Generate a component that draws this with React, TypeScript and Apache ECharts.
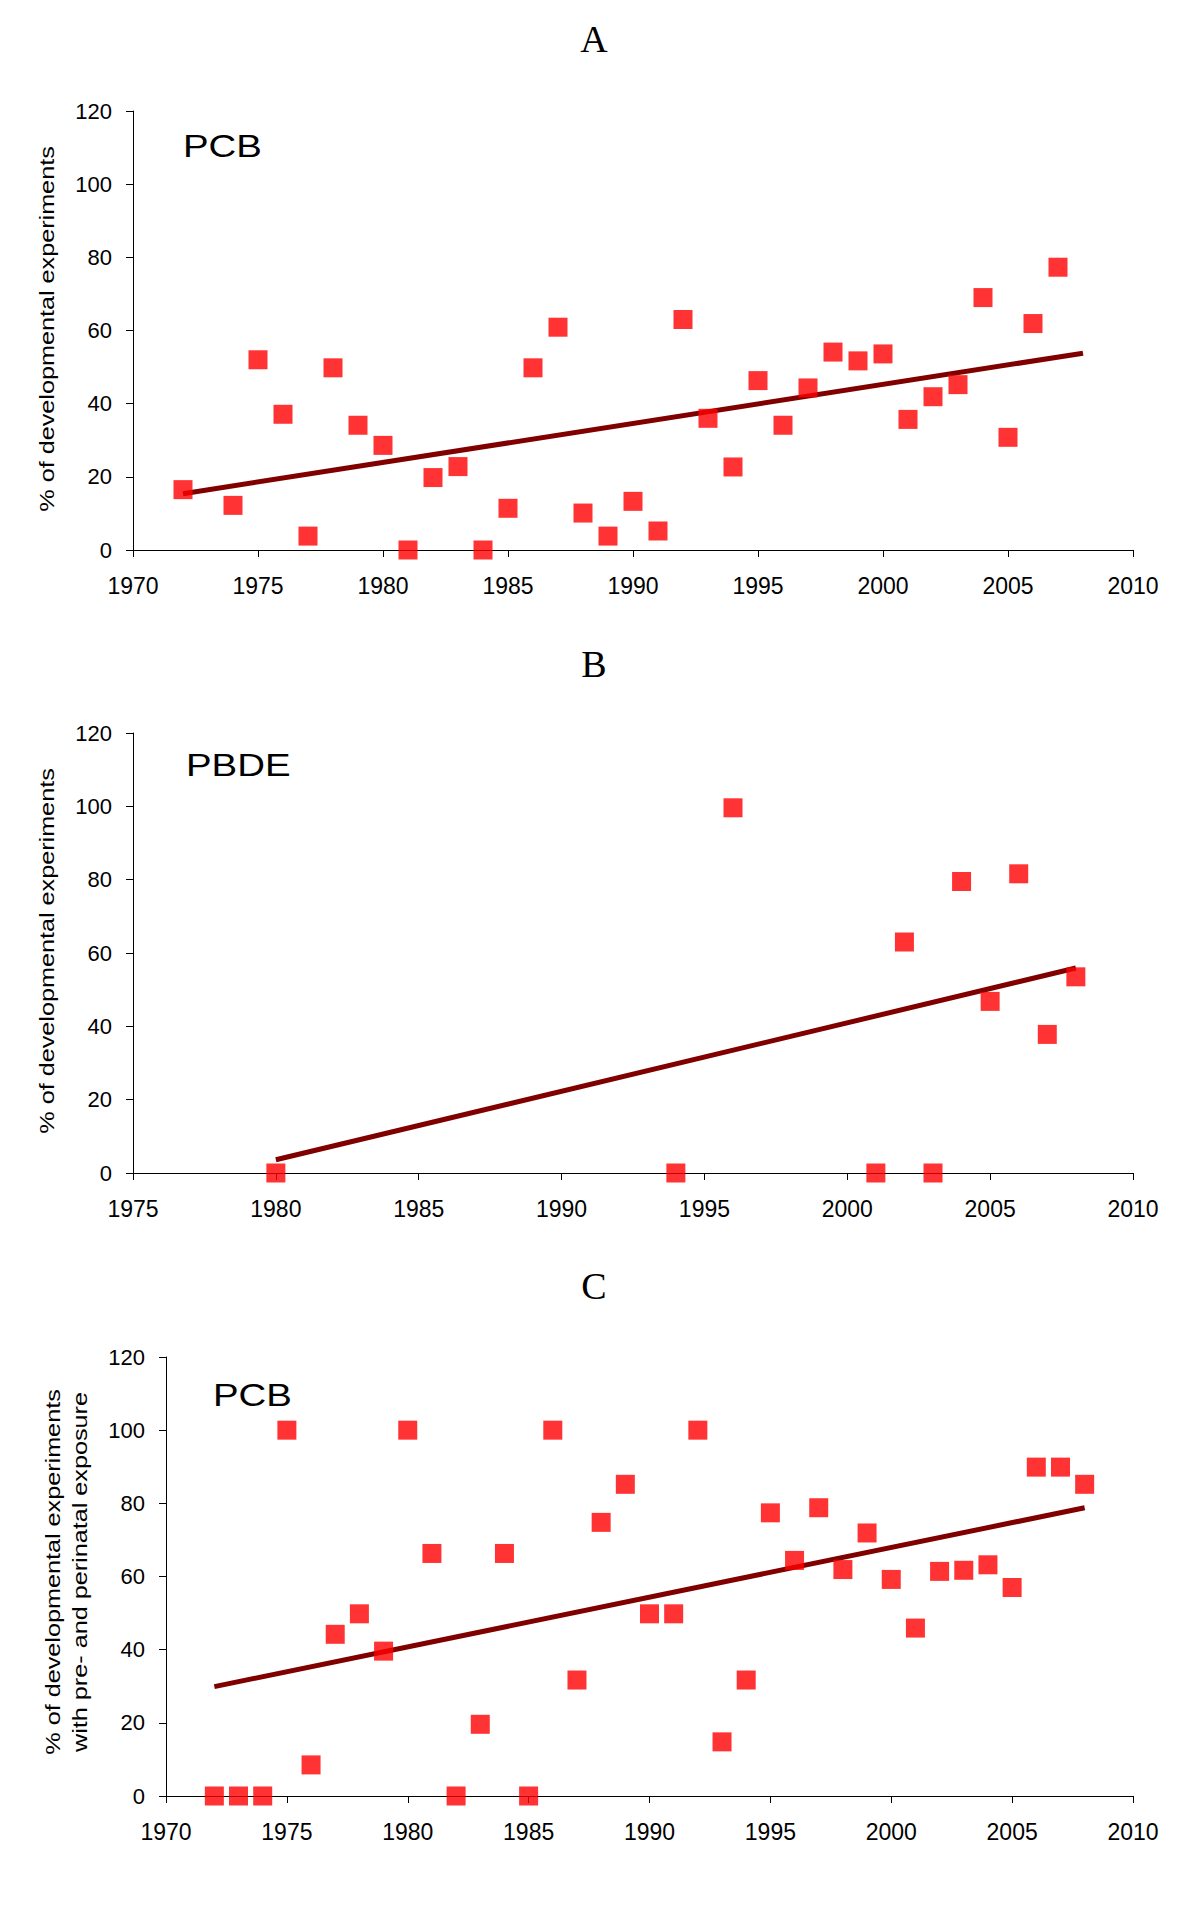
import React, { useEffect, useRef } from "react";
import * as echarts from "echarts";

// ---- Panel A: PCB ----
const yearsA = [1972, 1974, 1975, 1976, 1977, 1978, 1979, 1980, 1981, 1982, 1983, 1984, 1985, 1986, 1987, 1988, 1989, 1990, 1991, 1992, 1993, 1994, 1995, 1996, 1997, 1998, 1999, 2000, 2001, 2002, 2003, 2004, 2005, 2006, 2007];
const valuesA = [16.5, 12.2, 52.0, 37.1, 3.8, 49.8, 34.1, 28.6, 0, 19.8, 22.8, 0, 11.4, 49.8, 60.9, 10.1, 3.8, 13.3, 5.2, 63.0, 36.0, 22.7, 46.3, 34.1, 44.3, 54.1, 51.7, 53.6, 35.7, 41.9, 45.2, 69.0, 30.8, 61.9, 77.3];
const trendYearsA = [1972, 2008];
const trendValuesA = [15.4, 53.8];

// ---- Panel B: PBDE ----
const yearsB = [1980, 1994, 1996, 2001, 2002, 2003, 2004, 2005, 2006, 2007, 2008];
const valuesB = [0, 0, 99.6, 0, 63.0, 0, 79.5, 46.8, 81.6, 37.8, 53.5];
const trendYearsB = [1980, 2008];
const trendValuesB = [3.6, 55.9];

// ---- Panel C: PCB, pre- and perinatal exposure ----
const yearsC = [1972, 1973, 1974, 1975, 1976, 1977, 1978, 1979, 1980, 1981, 1982, 1983, 1984, 1985, 1986, 1987, 1988, 1989, 1990, 1991, 1992, 1993, 1994, 1995, 1996, 1997, 1998, 1999, 2000, 2001, 2002, 2003, 2004, 2005, 2006, 2007, 2008];
const valuesC = [0, 0, 0, 100, 8.5, 44.2, 49.8, 39.6, 100, 66.3, 0, 19.6, 66.3, 0, 100, 31.7, 74.8, 85.2, 49.8, 49.8, 100, 14.8, 31.7, 77.4, 64.4, 78.8, 61.9, 71.9, 59.2, 45.9, 61.4, 61.7, 63.2, 57.0, 89.9, 89.9, 85.2];
const trendYearsC = [1972, 2008];
const trendValuesC = [29.9, 78.8];

const panelTitles = ["A", "B", "C"];
const panelLabels = ["PCB", "PBDE", "PCB"];
const yTitleMain = "% of developmental experiments";
const yTitleSecond = "with pre- and perinatal exposure";
const xRanges = [
  [1970, 2010],
  [1975, 2010],
  [1970, 2010],
];

const SANS = "'Liberation Sans', Arial, sans-serif";
const SERIF = "'Liberation Serif', 'Times New Roman', serif";

const zip = (xs: number[], ys: number[]) => xs.map((x, i) => [x, ys[i]]);

export default function App() {
  const ref = useRef<HTMLDivElement>(null);

  useEffect(() => {
    if (!ref.current) return;
    const chart = echarts.init(ref.current, undefined, { renderer: "svg" });

    const grids = [
      { left: 133, top: 111, width: 1000, height: 439 },
      { left: 133, top: 733, width: 1000, height: 440 },
      { left: 166, top: 1357, width: 967, height: 439 },
    ];

    const xAxes = xRanges.map((r, i) => ({
      type: "value",
      gridIndex: i,
      min: r[0],
      max: r[1],
      interval: 5,
      splitLine: { show: false },
      axisLine: { show: true, onZero: false, lineStyle: { color: "#000", width: 1 } },
      axisTick: { show: true, length: 7, lineStyle: { color: "#000", width: 1 } },
      axisLabel: {
        color: "#000",
        fontSize: 23,
        fontFamily: SANS,
        margin: 24,
        showMinLabel: true,
        showMaxLabel: true,
        formatter: (v: number) => String(v),
      },
    }));

    const yAxes = [0, 1, 2].map((i) => ({
      type: "value",
      gridIndex: i,
      min: 0,
      max: 120,
      interval: 20,
      splitLine: { show: false },
      axisLine: { show: true, onZero: false, lineStyle: { color: "#000", width: 1 } },
      axisTick: { show: true, length: 7, lineStyle: { color: "#000", width: 1 } },
      axisLabel: {
        color: "#000",
        fontSize: 22,
        fontFamily: SANS,
        margin: 21,
        formatter: (v: number) => String(v),
      },
    }));

    const scatterData = [zip(yearsA, valuesA), zip(yearsB, valuesB), zip(yearsC, valuesC)];
    const trendData = [
      zip(trendYearsA, trendValuesA),
      zip(trendYearsB, trendValuesB),
      zip(trendYearsC, trendValuesC),
    ];

    const series: any[] = [];
    [0, 1, 2].forEach((i) => {
      series.push({
        type: "line",
        xAxisIndex: i,
        yAxisIndex: i,
        data: trendData[i],
        symbol: "none",
        showSymbol: false,
        clip: false,
        lineStyle: { color: "#800000", width: 5 },
        z: 2,
      });
      series.push({
        type: "scatter",
        xAxisIndex: i,
        yAxisIndex: i,
        data: scatterData[i],
        symbol: "rect",
        symbolSize: 19,
        clip: false,
        itemStyle: { color: "#ff0000" },
        z: 3,
      });
    });

    const titleCenters = [38.5, 664, 1286];
    const labelPos = [
      [183, 146],
      [186, 765],
      [213, 1395],
    ];

    const graphics: any[] = [];
    panelTitles.forEach((t, i) => {
      graphics.push({
        type: "text",
        x: 594,
        y: titleCenters[i],
        style: {
          text: t,
          fontSize: 38,
          fontFamily: SERIF,
          fill: "#000",
          align: "center",
          verticalAlign: "middle",
        },
      });
      graphics.push({
        type: "text",
        x: labelPos[i][0],
        y: labelPos[i][1],
        scaleX: 1.2,
        style: {
          text: panelLabels[i],
          fontSize: 32,
          fontFamily: SANS,
          fill: "#000",
          align: "left",
          verticalAlign: "middle",
        },
      });
    });

    const yTitles = [
      { text: yTitleMain, x: 47, y: 329 },
      { text: yTitleMain, x: 47, y: 951 },
      { text: yTitleMain, x: 53, y: 1572 },
      { text: yTitleSecond, x: 80, y: 1572 },
    ];
    yTitles.forEach((yt) => {
      graphics.push({
        type: "text",
        x: yt.x,
        y: yt.y,
        rotation: Math.PI / 2,
        scaleX: 1.2,
        style: {
          text: yt.text,
          fontSize: 21,
          fontFamily: SANS,
          fill: "#000",
          align: "center",
          verticalAlign: "middle",
        },
      });
    });

    chart.setOption({
      animation: false,
      backgroundColor: "#fff",
      textStyle: { fontFamily: SANS },
      grid: grids,
      xAxis: xAxes,
      yAxis: yAxes,
      series,
      graphic: graphics,
    });

    return () => chart.dispose();
  }, []);

  return (
    <div
      ref={ref}
      style={{ position: "absolute", left: 0, top: 0, width: 1200, height: 1908, background: "#fff" }}
    />
  );
}
